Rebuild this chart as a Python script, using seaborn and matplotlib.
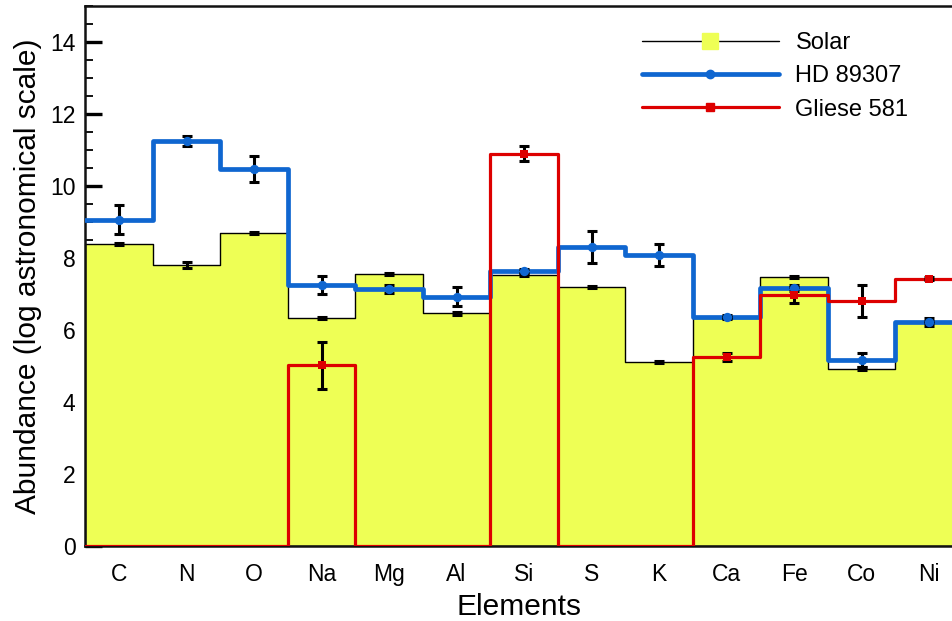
import numpy as np
import pandas as pd
import seaborn as sns
import matplotlib
matplotlib.use("Agg")
import matplotlib.pyplot as plt
from matplotlib.lines import Line2D
from matplotlib.ticker import MultipleLocator

elements = ["C", "N", "O", "Na", "Mg", "Al", "Si", "S", "K", "Ca", "Fe", "Co", "Ni"]
solar = [8.39, 7.81, 8.69, 6.33, 7.55, 6.46, 7.53, 7.19, 5.11, 6.34, 7.47, 4.92, 6.22]
solar_err = [0.03, 0.08, 0.03, 0.03, 0.03, 0.03, 0.03, 0.03, 0.04, 0.03, 0.03, 0.04, 0.03]
hd89307 = [9.06, 11.25, 10.47, 7.25, 7.14, 6.93, 7.64, 8.30, 8.08, 6.37, 7.17, 5.17, 6.22]
hd89307_err = [0.40, 0.14, 0.35, 0.25, 0.10, 0.27, 0.06, 0.45, 0.30, 0.05, 0.08, 0.20, 0.10]
gliese = [np.nan, np.nan, np.nan, 5.02, np.nan, np.nan, 10.90, np.nan, np.nan, 5.25, 6.97, 6.80, 7.43]
gliese_err = [np.nan, np.nan, np.nan, 0.65, np.nan, np.nan, 0.20, np.nan, np.nan, 0.10, 0.23, 0.45, 0.05]

YELLOW = "#eeff55"
BLUE = "#0f66d0"
RED = "#dd0000"

sns.set_style("ticks")
plt.rcParams["font.family"] = ["Liberation Sans", "DejaVu Sans"]
plt.rcParams["text.color"] = "black"
plt.rcParams["axes.labelcolor"] = "black"
plt.rcParams["xtick.color"] = "black"
plt.rcParams["ytick.color"] = "black"

pos = np.arange(len(elements))
df = pd.DataFrame({"pos": pos, "solar": solar, "hd": hd89307,
                   "gl": np.nan_to_num(np.array(gliese, dtype=float), nan=0.0)})

fig = plt.figure(figsize=(9.53, 6.21), dpi=100)
ax = fig.add_axes([85.25 / 953, 75 / 621, (953 - 85.25) / 953, 540 / 621])

# Solar: filled step
sns.histplot(data=df, x="pos", weights="solar", discrete=True, element="step",
             fill=True, color=YELLOW, alpha=1.0, edgecolor="black", linewidth=1.0,
             ax=ax, zorder=1)
# HD 89307 and Gliese 581 step lines
sns.histplot(data=df, x="pos", weights="hd", discrete=True, element="step",
             fill=False, color=BLUE, linewidth=3.4, ax=ax, zorder=3)
sns.histplot(data=df, x="pos", weights="gl", discrete=True, element="step",
             fill=False, color=RED, linewidth=2.3, ax=ax, zorder=4)

# error bars
for vals, errs in [(solar, solar_err), (hd89307, hd89307_err), (gliese, gliese_err)]:
    ax.errorbar(pos, vals, yerr=errs, fmt="none", ecolor="black", elinewidth=2.2,
                capsize=3.5, capthick=2.2, zorder=5)

# markers
sns.scatterplot(x=pos, y=hd89307, marker="o", s=45, color=BLUE, edgecolor=BLUE,
                linewidth=0, ax=ax, zorder=6)
sns.scatterplot(x=pos, y=gliese, marker="s", s=40, color=RED, edgecolor=RED,
                linewidth=0, ax=ax, zorder=6)

ax.set_xlim(-0.5, 12.355)
ax.set_ylim(0, 15)
ax.set_xticks(pos)
ax.set_xticklabels(elements)
ax.yaxis.set_major_locator(MultipleLocator(2))
ax.yaxis.set_minor_locator(MultipleLocator(0.5))
ax.tick_params(axis="y", which="major", direction="in", length=12, width=2.4,
               labelsize=16.5, pad=7, colors="black")
ax.tick_params(axis="y", which="minor", direction="in", length=6, width=1.3, colors="black")
ax.tick_params(axis="x", which="major", direction="in", length=12, width=1.3,
               labelsize=16.5, pad=12, colors="black")
ax.set_xlabel("Elements", fontsize=21.5, labelpad=5, color="black")
ax.set_ylabel("Abundance (log astronomical scale)", fontsize=21.5, labelpad=6, color="black")

for side in ["left", "bottom", "top"]:
    ax.spines[side].set_visible(True)
    ax.spines[side].set_linewidth(1.8)
    ax.spines[side].set_color("#111111")
ax.spines["right"].set_visible(False)

handles = [
    Line2D([], [], color="black", lw=1.0, marker="s", markersize=12,
           markerfacecolor=YELLOW, markeredgecolor=YELLOW),
    Line2D([], [], color=BLUE, lw=3.4, marker="o", markersize=6,
           markerfacecolor=BLUE, markeredgecolor=BLUE),
    Line2D([], [], color=RED, lw=2.3, marker="s", markersize=6,
           markerfacecolor=RED, markeredgecolor=RED),
]
leg = ax.legend(handles, ["Solar", "HD 89307", "Gliese 581"], loc="upper left",
                bbox_to_anchor=((641 - 85.25 - 8 + 9) / (953 - 85.25), 1 - 26 / 540),
                frameon=False, fontsize=17, borderaxespad=0, borderpad=0,
                handlelength=5.8, handletextpad=0.7, labelspacing=0.48)

fig.savefig("out.png", dpi=100)
